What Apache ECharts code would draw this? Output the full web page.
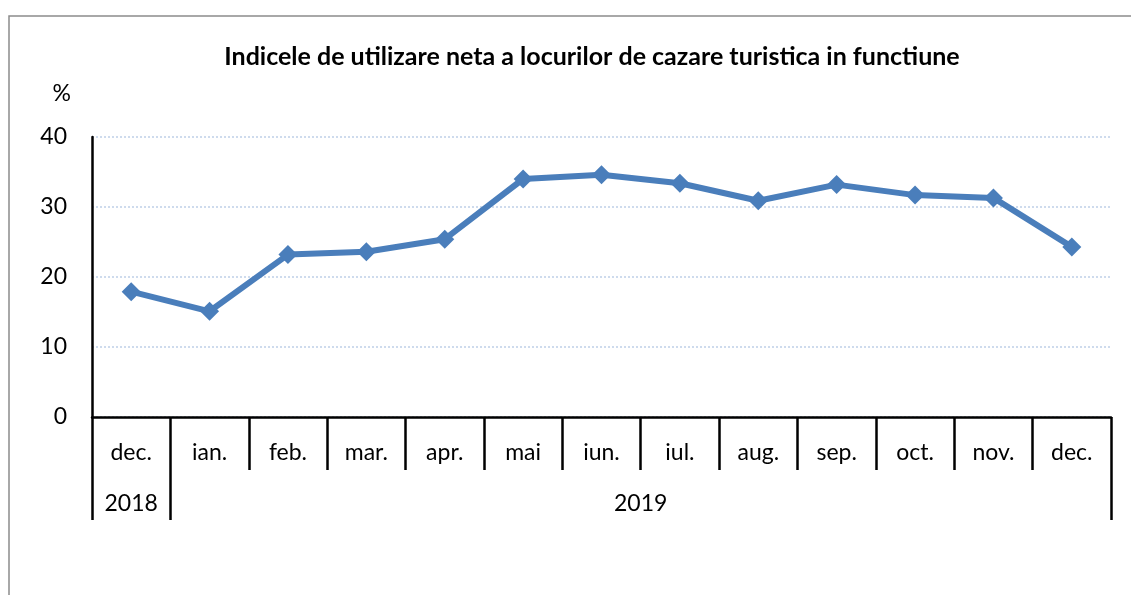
<!DOCTYPE html>
<html>
<head>
<meta charset="utf-8">
<script src="https://cdn.jsdelivr.net/npm/echarts@6/dist/echarts.min.js"></script>
<style>
  html, body { margin: 0; padding: 0; background: #fff; }
  #chart { width: 1131px; height: 595px; }
</style>
</head>
<body>
<div id="chart"></div>
<script>
// chart data
const months = ['dec.', 'ian.', 'feb.', 'mar.', 'apr.', 'mai', 'iun.', 'iul.', 'aug.', 'sep.', 'oct.', 'nov.', 'dec.']
const values = [17.9, 15.1, 23.2, 23.6, 25.4, 34.0, 34.6, 33.4, 30.9, 33.2, 31.7, 31.3, 24.3]
const years = ['2018', '2019']
const yearCenters = [0.5, 7]       // middle of each year group, in month slots
const yearBounds = [0, 1, 13]      // group separators, in month slots
const yTicks = [0, 10, 20, 30, 40]

const font = 'Lato, "Open Sans", sans-serif'
const chart = echarts.init(document.getElementById('chart'))

chart.setOption({
    animation: false,
    graphic: [
        {
            type: 'rect',
            shape: { x: 9, y: 16, width: 1200, height: 700 },
            style: { fill: 'none', stroke: '#8c8c8c', lineWidth: 1.5 },
            silent: true,
        },
    ],
    title: {
        text: 'Indicele de utilizare neta a locurilor de cazare turistica in functiune',
        left: 587,
        textAlign: 'center',
        top: 39,
        textStyle: { fontFamily: font, fontSize: 25, fontWeight: 'bold', color: '#000' },
    },
    grid: { left: 92, right: 20, top: 137, bottom: 178 },
    xAxis: [
        {
            type: 'category',
            data: months,
            boundaryGap: true,
            axisLine: { lineStyle: { color: '#000', width: 2.5 } },
            axisTick: { show: true, length: 53, lineStyle: { color: '#000', width: 2.5 } },
            axisLabel: { interval: 0, margin: 24, fontFamily: font, fontSize: 23, color: '#000' },
        },
        {
            type: 'value',
            position: 'bottom',
            min: 0,
            max: 13,
            axisLine: { show: false },
            splitLine: { show: false },
            axisTick: {
                show: true,
                customValues: yearBounds,
                length: 103,
                lineStyle: { color: '#000', width: 2.5 },
            },
            axisLabel: {
                customValues: yearCenters,
                formatter: (v) => years[yearCenters.indexOf(v)],
                margin: 75,
                fontFamily: font,
                fontSize: 23,
                color: '#000',
            },
        },
    ],
    yAxis: {
        type: 'value',
        min: yTicks[0],
        max: yTicks[yTicks.length - 1],
        interval: 10,
        name: '%',
        nameLocation: 'end',
        nameGap: 32,
        nameTextStyle: { fontFamily: font, fontSize: 23, color: '#000', align: 'right', padding: [0, 21, 0, 0] },
        axisLine: { show: true, lineStyle: { color: '#000', width: 2.5 } },
        axisTick: { show: false },
        axisLabel: { margin: 25, fontFamily: font, fontSize: 23, color: '#000' },
        splitLine: { show: true, lineStyle: { color: '#bfd0e8', width: 1.5, type: [2, 2] } },
    },
    series: [
        {
            type: 'line',
            xAxisIndex: 0,
            data: values,
            symbol: 'diamond',
            symbolSize: 19,
            lineStyle: { color: '#4a7ebb', width: 6 },
            itemStyle: { color: '#4a7ebb' },
        },
    ],
})
</script>
</body>
</html>
